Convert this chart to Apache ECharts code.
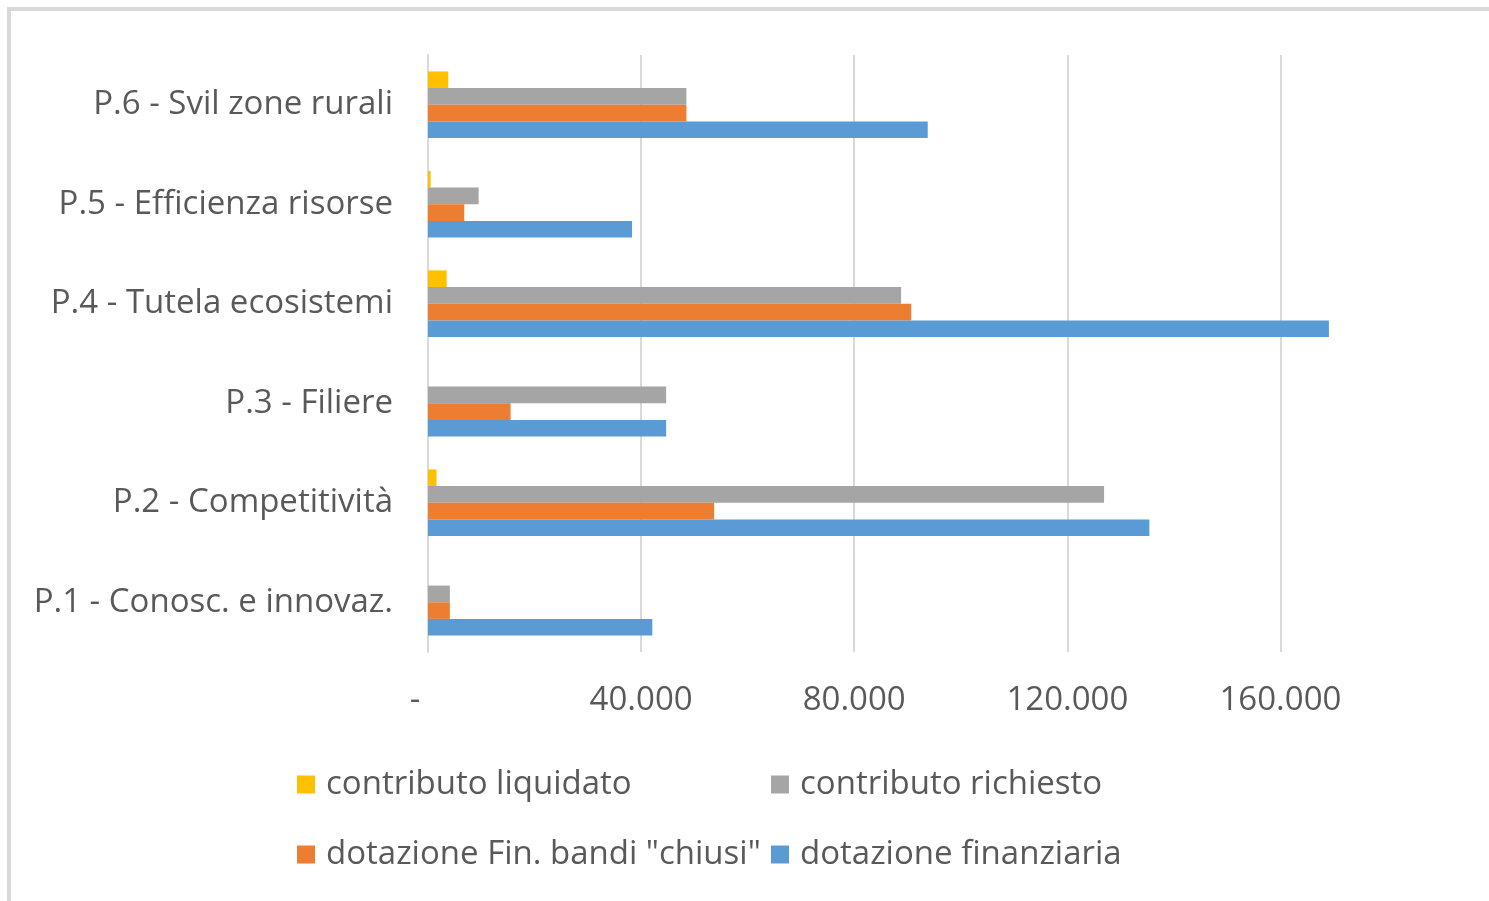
<!DOCTYPE html>
<html>
<head>
<meta charset="utf-8">
<script src="https://cdn.jsdelivr.net/npm/echarts@6/dist/echarts.min.js"></script>
<style>
  html, body { margin: 0; padding: 0; background: #fff; }
  #container { width: 1489px; height: 901px; }
</style>
</head>
<body>
<div id="container"></div>
<script>
// dati (euro x 1000 circa)
var categorie = ['P.1 - Conosc. e innovaz.', 'P.2 - Competitività', 'P.3 - Filiere',
                 'P.4 - Tutela ecosistemi', 'P.5 - Efficienza risorse', 'P.6 - Svil zone rurali'];
var nomiSerie = ['contributo liquidato', 'contributo richiesto', 'dotazione Fin. bandi "chiusi"', 'dotazione finanziaria'];
var coloriSerie = ['#FFC000', '#A5A5A5', '#ED7D31', '#5B9BD5'];
var contributoLiquidato = [0, 1600, 0, 3500, 500, 3800];
var contributoRichiesto = [4100, 126900, 44700, 88800, 9500, 48500];
var dotazioneChiusi = [4100, 53700, 15500, 90700, 6800, 48500];
var dotazioneFinanziaria = [42100, 135400, 44700, 169100, 38300, 93800];
var tickValori = [0, 40000, 80000, 120000, 160000];

var valori = [contributoLiquidato, contributoRichiesto, dotazioneChiusi, dotazioneFinanziaria];
var font = 'Open Sans';
var fontSize = 33;

var myChart = echarts.init(document.getElementById('container'));

var series = [];
for (var i = 0; i < nomiSerie.length; i++) {
    series.push({
        name: nomiSerie[i],
        type: 'bar',
        color: coloriSerie[i],
        barGap: 0,
        barCategoryGap: '33%',
        data: valori[i]
    });
}

// legenda su due righe, una per voce
var posLegenda = [[292, 763], [766, 763], [292, 833], [766, 833]];
var legende = [];
for (var j = 0; j < nomiSerie.length; j++) {
    legende.push({
        left: posLegenda[j][0],
        top: posLegenda[j][1],
        data: [nomiSerie[j]],
        icon: 'rect',
        itemWidth: 18,
        itemHeight: 18,
        itemGap: 0,
        textStyle: { fontFamily: font, fontSize: fontSize, color: '#595959', padding: [0, 0, 0, 6] }
    });
}

var option = {
    animation: false,
    backgroundColor: '#fff',
    graphic: [{
        type: 'rect',
        shape: { x: 9, y: 9, width: 1500, height: 920 },
        style: { fill: null, stroke: '#D9D9D9', lineWidth: 4 }
    }],
    grid: {
        left: 428,
        top: 55,
        width: 959,
        height: 597
    },
    legend: legende,
    xAxis: {
        type: 'value',
        min: 0,
        max: 180000,
        interval: 40000,
        axisLine: { show: false },
        axisTick: { show: false, customValues: tickValori },
        axisLabel: {
            customValues: tickValori,
            margin: 32,
            fontFamily: font,
            fontSize: fontSize,
            color: '#595959',
            formatter: function (v) {
                if (v === 0) return '-   ';
                return v.toString().replace(/\B(?=(\d{3})+(?!\d))/g, '.');
            }
        },
        splitLine: { show: true, lineStyle: { color: '#D9D9D9', width: 2 } }
    },
    yAxis: {
        type: 'category',
        data: categorie,
        axisLine: { show: true, lineStyle: { color: '#D9D9D9', width: 2 } },
        axisTick: { show: false },
        axisLabel: {
            margin: 35,
            padding: [4, 0, 0, 0],
            fontFamily: font,
            fontSize: fontSize,
            color: '#595959'
        }
    },
    series: series
};
myChart.setOption(option);
</script>
</body>
</html>
